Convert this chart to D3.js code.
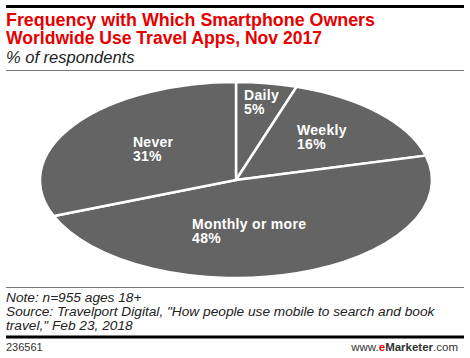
<!DOCTYPE html>
<html>
<head>
<meta charset="utf-8">
<script src="https://cdnjs.cloudflare.com/ajax/libs/d3/7.8.5/d3.min.js"></script>
<style>
  body { margin: 0; background: #fff; }
  svg { display: block; font-family: "Liberation Sans", Arial, sans-serif; }
</style>
</head>
<body>
<div id="chart"></div>
<script>
// data
let categories = ["Daily", "Weekly", "Monthly or more", "Never"];
let values = [5, 16, 48, 31];
let titleLines = ["Frequency with Which Smartphone Owners", "Worldwide Use Travel Apps, Nov 2017"];
let subtitle = "% of respondents";
let noteLines = ["Note: n=955 ages 18+",
    "Source: Travelport Digital, \"How people use mobile to search and book",
    "travel,\" Feb 23, 2018"];
let chartId = "236561";

// left edge / middle of each label block, in ellipse units (-1..1)
let labelPos = [[0.041, 0.80], [0.311, 0.44], [-0.224, -0.52], [-0.526, 0.32]];

function gen_vis() {
    let width = 470, height = 358;
    let cx = 236, cy = 180, rx = 196, ry = 98;

    let svg = d3.select("#chart")
        .append("svg")
        .attr("width", width)
        .attr("height", height);

    // header
    svg.append("rect").attr("x", 6).attr("y", 5).attr("width", 458).attr("height", 3).style("fill", "#000");
    let titleW = [369, 316];
    svg.selectAll(".title")
        .data(titleLines)
        .enter().append("text")
        .attr("class", "title")
        .text(d => d)
        .attr("x", 6)
        .attr("y", (d, i) => 26 + i * 17.5)
        .attr("textLength", (d, i) => titleW[i])
        .attr("lengthAdjust", "spacingAndGlyphs")
        .style("font-size", "17.5px")
        .style("font-weight", "bold")
        .style("fill", "#e60000");
    svg.append("text")
        .text(subtitle)
        .attr("x", 6).attr("y", 63)
        .style("font-size", "16.5px")
        .style("font-style", "italic")
        .style("fill", "#222");
    svg.append("rect").attr("x", 6).attr("y", 70).attr("width", 458).attr("height", 1).style("fill", "#777");

    // pie drawn as circle, stretched into an ellipse
    let pie = d3.pie().sort(null).value(d => d);
    let arc = d3.arc().innerRadius(0).outerRadius(ry);

    let g = svg.append("g")
        .attr("transform", "translate(" + cx + "," + cy + ") scale(" + (rx / ry) + ",1)");
    g.selectAll(".slice")
        .data(pie(values))
        .enter().append("path")
        .attr("class", "slice")
        .attr("d", arc)
        .style("fill", "#646464")
        .style("stroke", "#fff")
        .style("stroke-width", 2.5)
        .attr("vector-effect", "non-scaling-stroke");

    let xs = d3.scaleLinear().domain([-1, 1]).range([cx - rx, cx + rx]);
    let ys = d3.scaleLinear().domain([-1, 1]).range([cy + ry, cy - ry]);

    categories.forEach(function (c, i) {
        let t = svg.append("text")
            .style("font-size", "14px")
            .style("font-weight", "bold")
            .style("fill", "#fff")
            .style("letter-spacing", "0.3px");
        t.append("tspan").text(c)
            .attr("x", xs(labelPos[i][0])).attr("y", ys(labelPos[i][1]) - 2);
        t.append("tspan").text(values[i] + "%")
            .attr("x", xs(labelPos[i][0])).attr("y", ys(labelPos[i][1]) + 12.5);
    });

    // footer
    svg.append("rect").attr("x", 6).attr("y", 287).attr("width", 458).attr("height", 1).style("fill", "#777");
    svg.selectAll(".note")
        .data(noteLines)
        .enter().append("text")
        .attr("class", "note")
        .text(d => d)
        .attr("x", 6)
        .attr("y", (d, i) => 302 + i * 14)
        .style("font-size", "13.7px")
        .style("font-style", "italic")
        .style("fill", "#222");
    svg.append("rect").attr("x", 6).attr("y", 335.5).attr("width", 458).attr("height", 3).style("fill", "#000");
    svg.append("text")
        .text(chartId)
        .attr("x", 6).attr("y", 351)
        .style("font-size", "11px")
        .style("fill", "#333");
    let brand = svg.append("text")
        .attr("x", 458).attr("y", 351)
        .style("font-size", "11.5px")
        .style("text-anchor", "end")
        .style("fill", "#333");
    brand.append("tspan").text("www.");
    brand.append("tspan").text("e").style("fill", "#e60000").style("font-weight", "bold");
    brand.append("tspan").text("Marketer").style("font-weight", "bold");
    brand.append("tspan").text(".com");
}

gen_vis();
</script>
</body>
</html>
